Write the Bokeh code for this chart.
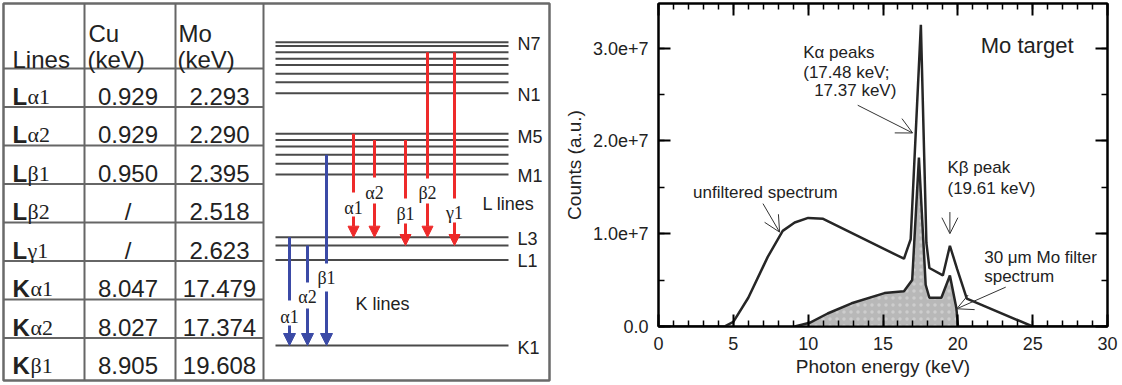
from bokeh.plotting import figure
from bokeh.layouts import row
from bokeh.models import (Range1d, Arrow, NormalHead, OpenHead, LinearAxis,
                          SingleIntervalTicker, CustomJSTickFormatter)
from bokeh.core.properties import value
from bokeh.embed import file_html
from bokeh.resources import INLINE

# ---------------- data ----------------
# table of X-ray emission lines
line_names = ["Lα1", "Lα2", "Lβ1", "Lβ2", "Lγ1", "Kα1", "Kα2", "Kβ1"]
cu_kev = ["0.929", "0.929", "0.950", "/", "/", "8.047", "8.027", "8.905"]
mo_kev = ["2.293", "2.290", "2.395", "2.518", "2.623", "17.479", "17.374", "19.608"]
header = ["Lines", "Cu", "Mo"]

# energy-level diagram (schematic positions)
n_levels = [41.7, 45.5, 51.7, 58.3, 64.5, 73.3, 81.7, 92.7]
m_levels = [133.3, 139.5, 146.0, 154.3, 163.3, 174.0]
l_levels = [236.7, 245.0, 259.5]
k_levels = [345.0]
level_labels = ["N7", "N1", "M5", "M1", "L3", "L1", "K1"]
level_label_y = [43, 94, 136, 175, 238, 260, 347]

l_names = ["α1", "α2", "β1", "β2", "γ1"]
l_x = [353, 374, 405, 427, 454]
l_from = [133.3, 139.5, 139.5, 51.7, 51.7]
l_seg_end = [192, 177, 198, 178, 198]
l_lab_y = [207, 192, 213, 192, 212]
l_arr_start = [216, 203, 223, 203, 222]
l_to = [236.7, 236.7, 245.0, 236.7, 245.0]

k_names = ["α1", "α2", "β1"]
k_x = [289, 307, 326]
k_from = [236.7, 245.0, 154.3]
k_seg_end = [300, 282, 263]
k_lab_y = [316, 296, 277]
k_arr_start = [325, 308, 291]
k_to = [345.0, 345.0, 345.0]

# Mo target spectrum (keV, counts)
unf_x = [0, 4.4, 5.0, 6.0, 7.3, 8.3, 9.1, 10.0, 11.0, 16.4, 16.85, 17.53, 17.9,
         18.1, 19.0, 19.47, 19.95, 20.6, 25.0, 30.0]
unf_y = [0, 0, 0.05e7, 0.31e7, 0.75e7, 1.03e7, 1.12e7, 1.17e7, 1.16e7, 0.73e7,
         0.94e7, 3.25e7, 0.9e7, 0.63e7, 0.55e7, 0.87e7, 0.62e7, 0.30e7, 0, 0]
filt_x = [9.1, 10.1, 11.3, 12.9, 15.1, 16.4, 16.95, 17.4, 17.85, 18.1, 18.9,
          19.47, 19.9, 20.0, 20.01]
filt_y = [0, 0.04e7, 0.14e7, 0.25e7, 0.36e7, 0.38e7, 0.5e7, 1.82e7, 0.45e7,
          0.31e7, 0.31e7, 0.55e7, 0.2e7, 0.02e7, 0]

TXT = "#222222"

# ---------------- left panel: table + level diagram ----------------
W1 = 560
p1 = figure(width=W1, height=385, x_range=Range1d(0, W1), y_range=Range1d(385, 0),
            output_backend="svg", toolbar_location=None, min_border=0,
            x_axis_type=None, y_axis_type=None)
p1.grid.visible = False
p1.outline_line_color = None
p1.frame_align = False

col_edges = [3, 84, 175, 263]
head_bottom = 68
row_h = 38.5
box_bottom = 380

# outer box
p1.quad(left=[3], right=[549], top=[3], bottom=[box_bottom], fill_color=None,
        line_color="#6a6a6a", line_width=2.5)
# table grid
n = len(line_names)
hy = [head_bottom + i * row_h for i in range(n)]
p1.segment(x0=[3] * n, x1=[263] * n, y0=hy, y1=hy, line_color="#666666", line_width=2)
p1.segment(x0=col_edges[1:], x1=col_edges[1:], y0=[3] * 3, y1=[box_bottom] * 3,
           line_color="#666666", line_width=2)

# header
p1.text(x=[12], y=[59], text=[header[0]], text_font=value("Liberation Sans"),
        text_font_size="24px", text_color=TXT, text_baseline="alphabetic")
p1.text(x=[88, 178], y=[33, 33], text=header[1:], text_font=value("Liberation Sans"),
        text_font_size="24px", text_color=TXT, text_baseline="alphabetic")
p1.text(x=[87, 177], y=[59, 59], text=["(keV)", "(keV)"], text_font=value("Liberation Sans"),
        text_font_size="24px", text_color=TXT, text_baseline="alphabetic")

base = [head_bottom + (i + 0.5) * row_h + 8.5 for i in range(n)]
p1.text(x=[12] * n, y=base, text=[s[0] for s in line_names],
        text_font=value("Liberation Sans"), text_font_style="bold",
        text_font_size="24px", text_color=TXT, text_baseline="alphabetic")
gx = [27 if s[0] == "L" else 30 for s in line_names]
p1.text(x=gx, y=base, text=[s[1:] for s in line_names],
        text_font=value("Liberation Serif"), text_font_size="22px",
        text_color=TXT, text_baseline="alphabetic")
cx = (col_edges[1] + col_edges[2]) / 2
mx = (col_edges[2] + col_edges[3]) / 2
p1.text(x=[cx - 2] * n, y=base, text=cu_kev, text_font=value("Liberation Sans"),
        text_font_size="24px", text_color=TXT, text_align="center", text_baseline="alphabetic")
p1.text(x=[mx] * n, y=base, text=mo_kev, text_font=value("Liberation Sans"),
        text_font_size="24px", text_color=TXT, text_align="center", text_baseline="alphabetic")

# energy levels
levels = n_levels + m_levels + l_levels + k_levels
nl = len(levels)
p1.segment(x0=[275] * nl, x1=[508] * nl, y0=levels, y1=levels,
           line_color="#4a4a4a", line_width=2)
p1.text(x=[517] * len(level_labels), y=level_label_y, text=level_labels,
        text_font=value("Liberation Sans"), text_font_size="18px", text_color=TXT,
        text_baseline="middle")

RED = "#ee2a2a"
BLUE = "#3b4aa6"
# L lines (red)
p1.segment(x0=l_x, x1=l_x, y0=l_from, y1=l_seg_end, line_color=RED, line_width=3)
for x, y0, y1 in zip(l_x, l_arr_start, l_to):
    p1.add_layout(Arrow(end=NormalHead(size=11, fill_color=RED, line_color=RED),
                        x_start=x, y_start=y0, x_end=x, y_end=y1,
                        line_color=RED, line_width=3))
p1.text(x=l_x, y=l_lab_y, text=l_names, text_font=value("Liberation Serif"),
        text_font_size="18px", text_color=TXT, text_align="center", text_baseline="middle")

# K lines (blue)
p1.segment(x0=k_x, x1=k_x, y0=k_from, y1=k_seg_end, line_color=BLUE, line_width=3)
for x, y0, y1 in zip(k_x, k_arr_start, k_to):
    p1.add_layout(Arrow(end=NormalHead(size=12, fill_color=BLUE, line_color=BLUE),
                        x_start=x, y_start=y0, x_end=x, y_end=y1,
                        line_color=BLUE, line_width=3))
p1.text(x=k_x, y=k_lab_y, text=k_names, text_font=value("Liberation Serif"),
        text_font_size="18px", text_color=TXT, text_align="center", text_baseline="middle")

p1.text(x=[482, 355], y=[203, 303], text=["L lines", "K lines"],
        text_font=value("Liberation Sans"), text_font_size="18px", text_color=TXT,
        text_baseline="middle")

# ---------------- right panel: spectrum ----------------
p2 = figure(width=1122 - W1, height=385, x_range=Range1d(0, 30), y_range=Range1d(0, 3.48e7),
            output_backend="svg", toolbar_location=None,
            min_border_left=90, min_border_right=15, min_border_top=3, min_border_bottom=59)
p2.grid.visible = False
p2.outline_line_color = "black"
p2.outline_line_width = 2
p2.frame_align = False

xt = SingleIntervalTicker(interval=5, num_minor_ticks=5)
yt = SingleIntervalTicker(interval=1e7, num_minor_ticks=2)
yfmt = CustomJSTickFormatter(code="return tick === 0 ? '0.0' : tick.toExponential(1);")

for ax, tk in ((p2.xaxis[0], xt), (p2.yaxis[0], yt)):
    ax.ticker = tk
    ax.major_tick_in = 12
    ax.major_tick_out = 0
    ax.minor_tick_in = 6
    ax.minor_tick_out = 0
    ax.major_tick_line_width = 2
    ax.minor_tick_line_width = 1.5
    ax.axis_line_width = 2
    ax.major_label_text_font = "Liberation Sans"
    ax.major_label_text_font_size = "18px"
    ax.major_label_text_color = TXT
    ax.axis_label_text_font = "Liberation Sans"
    ax.axis_label_text_font_size = "19px"
    ax.axis_label_text_font_style = "normal"
    ax.axis_label_text_color = TXT
p2.yaxis[0].formatter = yfmt
p2.xaxis[0].axis_label = "Photon energy (keV)"
p2.yaxis[0].axis_label = "Counts (a.u.)"
p2.xaxis[0].major_label_standoff = 10
p2.yaxis[0].major_label_standoff = 10
p2.xaxis[0].axis_label_standoff = 3
p2.yaxis[0].axis_label_standoff = 5

for loc, tk in (("above", xt), ("right", yt)):
    ax = LinearAxis(ticker=tk, major_label_text_font_size="0px", major_label_standoff=0,
                    major_label_text_color=None,
                    major_tick_in=12, major_tick_out=0, minor_tick_in=6, minor_tick_out=0,
                    major_tick_line_width=2, minor_tick_line_width=1.5, axis_line_width=2)
    p2.add_layout(ax, loc)

p2.varea(x=filt_x, y1=[0] * len(filt_x), y2=filt_y, fill_color="#b8b8b8",
         hatch_pattern="dot", hatch_color="white", hatch_alpha=0.3, hatch_scale=7)
p2.line(filt_x, filt_y, line_color="#262626", line_width=2.5)
p2.line(unf_x, unf_y, line_color="#262626", line_width=2.5)

ANN = dict(text_font=value("Liberation Sans"), text_font_size="17px",
           text_color=TXT, text_baseline="middle")
p2.text(x=[9.67, 9.67, 10.4], y=[2.956e7, 2.74e7, 2.546e7],
        text=["Kα peaks", "(17.48 keV;", "17.37 keV)"], **ANN)
p2.text(x=[19.31, 19.31], y=[1.718e7, 1.489e7], text=["Kβ peak", "(19.61 keV)"], **ANN)
p2.text(x=[2.31], y=[1.449e7], text=["unfiltered spectrum"], **ANN)
p2.text(x=[21.76, 21.76], y=[0.748e7, 0.539e7], text=["30 μm Mo filter", "spectrum"], **ANN)
p2.text(x=[21.53], y=[3.03e7], text=["Mo target"], text_font=value("Liberation Sans"),
        text_font_size="22px", text_color=TXT, text_baseline="middle")

for (xs, ys, xe, ye) in [(13.31, 2.384e7, 16.98, 2.085e7),
                         (19.47, 1.233e7, 19.47, 1.0e7),
                         (6.98, 1.324e7, 8.09, 1.017e7),
                         (23.2, 0.424e7, 19.93, 0.191e7)]:
    p2.add_layout(Arrow(end=OpenHead(size=16, line_color="#333333", line_width=1),
                        x_start=xs, y_start=ys, x_end=xe, y_end=ye,
                        line_color="#333333", line_width=1))

layout = row(p1, p2)
open("out.html", "w").write(file_html(layout, INLINE))
